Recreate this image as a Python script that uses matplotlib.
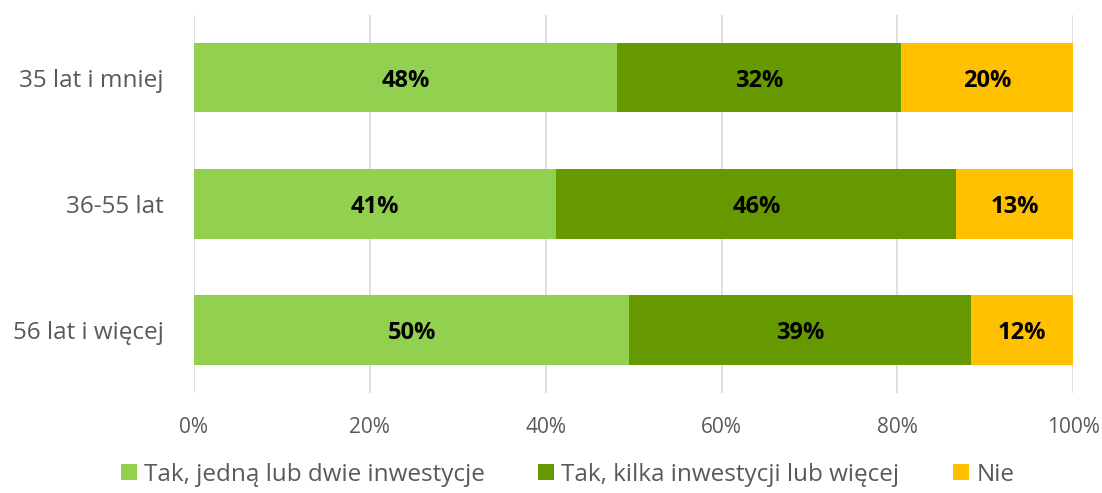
import numpy as np
import matplotlib.pyplot as plt

plt.rcParams['font.family'] = ['Open Sans', 'DejaVu Sans']

categories = ['35 lat i mniej', '36-55 lat', '56 lat i więcej']
series_names = ['Tak, jedną lub dwie inwestycje', 'Tak, kilka inwestycji lub więcej', 'Nie']
one_two = [48.1, 41.2, 49.5]
several = [32.3, 45.5, 38.9]
no = [19.6, 13.3, 11.6]
colors = ['#92D050', '#669900', '#FFC000']

fig = plt.figure(figsize=(11.02, 4.93), dpi=100)
ax = fig.add_axes([0.176, 0.203, 0.798, 0.767])

y = np.arange(len(categories))
left = np.zeros(len(categories))
for vals, name, col in zip([one_two, several, no], series_names, colors):
    vals = np.array(vals)
    bars = ax.barh(y, vals, left=left, height=0.55, color=col, label=name, zorder=2)
    for b, v in zip(bars, vals):
        ax.text(b.get_x() + b.get_width() / 2, b.get_y() + b.get_height() / 2,
                f'{round(v):.0f}%', ha='center', va='center_baseline',
                fontsize=17, fontweight='bold', color='black')
    left += vals

ax.set_xlim(0, 100)
ax.set_ylim(2.5, -0.5)
ax.set_yticks(y)
ax.set_yticklabels(categories, fontsize=17.5, color='#595959')
ax.set_xticks(np.arange(0, 101, 20))
ax.set_xticklabels([f'{t}%' for t in range(0, 101, 20)], fontsize=15, color='#595959')
ax.grid(axis='x', color='#D9D9D9', linewidth=1.2, zorder=0)
for s in ax.spines.values():
    s.set_visible(False)
ax.tick_params(axis='both', length=0)
ax.tick_params(axis='x', pad=17)
ax.tick_params(axis='y', pad=22)

fig.legend(loc='lower center', bbox_to_anchor=(0.515, -0.032), ncol=3, frameon=False,
           fontsize=17.5, handlelength=0.65, handleheight=0.65, handletextpad=0.3,
           columnspacing=2.2, labelcolor='#595959')

fig.savefig('out.png', dpi=100)
